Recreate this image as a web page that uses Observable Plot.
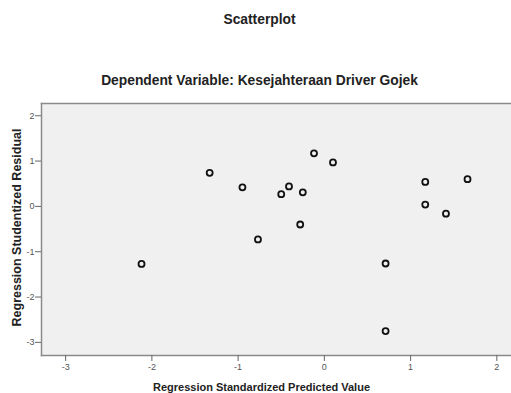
<!DOCTYPE html>
<html>
<head>
<meta charset="utf-8">
<script src="https://cdn.jsdelivr.net/npm/d3@7"></script>
<script src="https://cdn.jsdelivr.net/npm/@observablehq/plot@0.6"></script>
<style>
  html, body { margin: 0; padding: 0; background: #fff; }
  #chart { width: 511px; height: 393px; }
</style>
</head>
<body>
<div id="chart"></div>
<script>
const title = "Scatterplot";
const subtitle = "Dependent Variable: Kesejahteraan Driver Gojek";
const xLabel = "Regression Standardized Predicted Value";
const yLabel = "Regression Studentized Residual";
const xTicks = [-3, -2, -1, 0, 1, 2];
const yTicks = [-3, -2, -1, 0, 1, 2];

const predicted = [-2.12, -1.33, -0.95, -0.77, -0.12, 0.10, -0.41, -0.50, -0.25, -0.28, 0.71, 0.71, 1.17, 1.17, 1.41, 1.66];
const residual  = [-1.27, 0.74, 0.42, -0.73, 1.17, 0.97, 0.44, 0.27, 0.31, -0.40, -1.26, -2.75, 0.54, 0.04, -0.16, 0.60];

const data = predicted.map((x, i) => ({x, y: residual[i]}));
const fmt = d => String(d);

const chart = Plot.plot({
  width: 511,
  height: 393,
  marginLeft: 41,
  marginRight: 0,
  marginTop: 103,
  marginBottom: 38,
  style: {fontFamily: "Liberation Sans, Arial, sans-serif", background: "#fff", overflow: "visible"},
  x: {domain: [-3.28, 2.17]},
  y: {domain: [-3.29, 2.27]},
  marks: [
    Plot.frame({fill: "#f0f0f0", stroke: null}),
    Plot.frame({anchor: "top", stroke: "#8a8a8a", strokeWidth: 1.5}),
    Plot.frame({anchor: "left", stroke: "#8a8a8a", strokeWidth: 1.5}),
    Plot.frame({anchor: "bottom", stroke: "#8a8a8a", strokeWidth: 1.5}),
    Plot.axisX({ticks: xTicks, tickFormat: fmt, tickSize: 6, tickPadding: 2, stroke: "#666", fill: "#555", fontSize: 9,
      label: null}),
    Plot.axisY({ticks: yTicks, tickFormat: fmt, tickSize: 6, tickPadding: 1, stroke: "#666", fill: "#555", fontSize: 9,
      label: null}),
    Plot.text([xLabel], {frameAnchor: "bottom", lineAnchor: "middle", dy: 32, dx: -15, fontWeight: "bold", fontSize: 11, fill: "#222"}),
    Plot.text([yLabel], {frameAnchor: "left", textAnchor: "middle", lineAnchor: "middle", dx: -25, dy: -2, rotate: -90, fontWeight: "bold", fontSize: 12.5, fill: "#222"}),
    Plot.text([title], {frameAnchor: "top", lineAnchor: "middle", dy: -84, dx: -17, fontWeight: "bold", fontSize: 13.8, fill: "#222"}),
    Plot.text([subtitle], {frameAnchor: "top", lineAnchor: "middle", dy: -23, dx: -17, fontWeight: "bold", fontSize: 13.8, fill: "#222"}),
    Plot.dot(data, {x: "x", y: "y", r: 3, stroke: "#111", strokeWidth: 1.8, fill: "none"})
  ]
});
document.getElementById("chart").appendChild(chart);
</script>
</body>
</html>
